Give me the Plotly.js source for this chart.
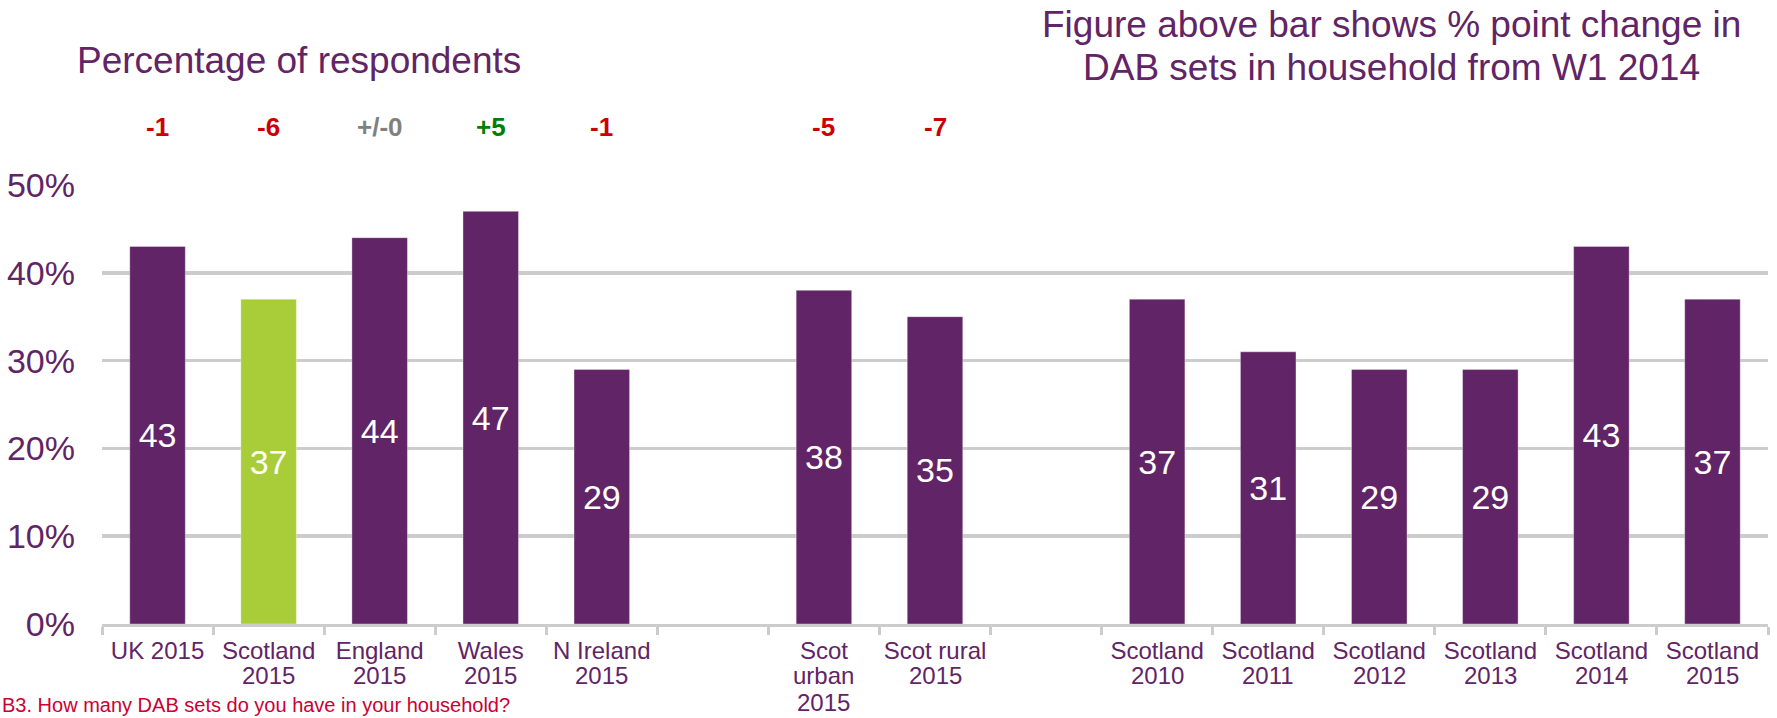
<!DOCTYPE html>
<html>
<head>
<meta charset="utf-8">
<script src="https://cdn.plot.ly/plotly-3.0.1.min.js"></script>
<style>
  html, body { margin: 0; padding: 0; background: #ffffff; }
  #chart { width: 1777px; height: 718px; }
</style>
</head>
<body>
<div id="chart"></div>
<script>
// ---- Data ----
const slotLabels = [
  "UK 2015", "Scotland\n2015", "England\n2015", "Wales\n2015", "N Ireland\n2015",
  "",
  "Scot\nurban\n2015", "Scot rural\n2015",
  "",
  "Scotland\n2010", "Scotland\n2011", "Scotland\n2012", "Scotland\n2013", "Scotland\n2014", "Scotland\n2015"
];
const dabSetShare = [43, 37, 44, 47, 29, null, 38, 35, null, 37, 31, 29, 29, 43, 37];
const changeFromW1_2014 = [-1, -6, 0, 5, -1, null, -5, -7, null, null, null, null, null, null, null];
const highlightSlot = 1; // Scotland 2015 in the nations group
const yTickValues = [0, 10, 20, 30, 40, 50];

const titleText = "Percentage of respondents";
const noteLines = ["Figure above bar shows % point change in", "DAB sets in household from W1 2014"];
const footnoteText = "B3. How many DAB sets do you have in your household?";

// ---- Styles ----
const FONT = "Liberation Sans, Arial, Helvetica, sans-serif";
const PURPLE = "#612466";
const GREEN = "#a8cd38";
const TEXT_PURPLE = "#612466";
const GRID = "#cccccc";

const slotIdx = slotLabels.map((_, i) => i);
const barX = [], barY = [], barColors = [];
slotIdx.forEach(i => {
  if (dabSetShare[i] !== null) {
    barX.push(i);
    barY.push(dabSetShare[i]);
    barColors.push(i === highlightSlot ? GREEN : PURPLE);
  }
});

const trace = {
  type: "bar",
  x: barX,
  y: barY,
  width: 0.5,
  marker: { color: barColors, line: { color: "rgba(255,255,255,0.35)", width: 1 } },
  texttemplate: "%{y}",
  textposition: "inside",
  insidetextanchor: "middle",
  constraintext: "none",
  textfont: { family: FONT, size: 34, color: "#ffffff" },
  hoverinfo: "x+y",
  showlegend: false
};

const xRange = [-0.5, slotLabels.length - 0.5];

// first line of each category label on the axis itself
const firstLines = slotLabels.map(l => l.split("\n")[0]);

const annotations = [];

// further lines of the category labels, stacked under the axis labels
const LABEL_FONT = { family: FONT, size: 24, color: TEXT_PURPLE };
const LINE1_Y = -0.0542;          // paper y of the first label line (cap middle)
const LINE_STEP = 27.5 / 439.5;   // line pitch in paper units
slotLabels.forEach((lab, i) => {
  lab.split("\n").forEach((part, k) => {
    if (k === 0 || part === "") return;
    annotations.push({
      xref: "x", yref: "paper", x: i, y: LINE1_Y - k * LINE_STEP,
      xanchor: "center", yanchor: "middle",
      text: part, showarrow: false, font: LABEL_FONT
    });
  });
});

// change-since-W1-2014 figures above the bars
slotIdx.forEach(i => {
  const d = changeFromW1_2014[i];
  if (d === null) return;
  const txt = d > 0 ? "+" + d : (d === 0 ? "+/-0" : String(d));
  const col = d > 0 ? "#008000" : (d === 0 ? "#808080" : "#cc0000");
  annotations.push({
    xref: "x", yref: "paper", x: i, y: 1.132,
    xanchor: "center", yanchor: "middle",
    text: "<b>" + txt + "</b>", showarrow: false,
    font: { family: FONT, size: 26, color: col }
  });
});

// note at top right
const noteY = [1.3645, 1.2667];
noteLines.forEach((t, k) => {
  annotations.push({
    xref: "paper", yref: "paper", x: 0.7743, y: noteY[k],
    xanchor: "center", yanchor: "middle",
    text: t, showarrow: false,
    font: { family: FONT, size: 37, color: TEXT_PURPLE }
  });
});

// question footnote along the bottom edge
annotations.push({
  xref: "paper", yref: "paper", x: -0.0612, y: -0.185,
  xanchor: "left", yanchor: "middle",
  text: footnoteText, showarrow: false,
  font: { family: FONT, size: 20, color: "#cc0033" }
});

const layout = {
  width: 1777,
  height: 718,
  margin: { l: 102, r: 9, t: 185, b: 93.5, pad: 0 },
  paper_bgcolor: "#ffffff",
  plot_bgcolor: "#ffffff",
  font: { family: FONT, color: TEXT_PURPLE },
  title: {
    text: titleText,
    font: { family: FONT, size: 37, color: TEXT_PURPLE },
    xref: "container", yref: "container",
    x: 77 / 1777, xanchor: "left",
    y: 1 - 47 / 718, yanchor: "top"
  },
  xaxis: {
    range: xRange,
    tickmode: "array",
    tickvals: slotIdx,
    ticktext: firstLines,
    ticks: "",
    showgrid: false,
    zeroline: false,
    showline: true, linecolor: GRID, linewidth: 3,
    minor: { tick0: -0.5, dtick: 1, ticks: "outside", ticklen: 8, tickwidth: 3, tickcolor: GRID, showgrid: false },
    tickfont: LABEL_FONT,
    ticklabelstandoff: 3,
    fixedrange: true
  },
  yaxis: {
    range: [0, 50],
    tickmode: "array",
    tickvals: yTickValues,
    ticktext: yTickValues.map(v => v + "%"),
    showgrid: true, gridcolor: GRID, gridwidth: 3.5,
    zeroline: false, showline: false, ticks: "",
    tickfont: { family: FONT, size: 34, color: TEXT_PURPLE },
    ticklabelstandoff: 26,
    fixedrange: true
  },
  bargap: 0.5,
  annotations: annotations
};

Plotly.newPlot("chart", [trace], layout, { displayModeBar: false, staticPlot: true });
</script>
</body>
</html>
